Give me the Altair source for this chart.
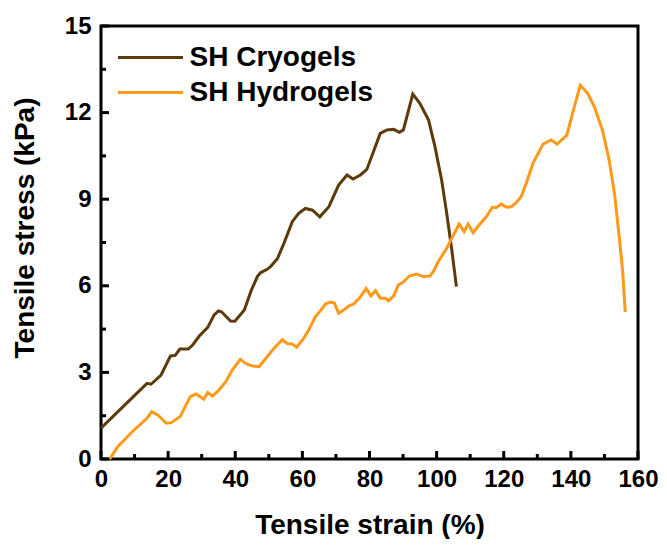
import altair as alt
import pandas as pd

# ---- data ----
cryo_strain = [0, 13.7, 14.9, 17.9, 20.7, 22.1, 23.5, 26.0, 27.3, 29.3, 31.8, 33.7, 35.0, 35.9,
               38.6, 39.9, 42.7, 44.8, 46.6, 47.5, 49.5, 50.5, 52.6, 54.5, 57.0, 58.9, 60.9,
               63.0, 65.2, 67.9, 70.8, 73.3, 75.1, 77.3, 79.2, 81.2, 83.2, 85.2, 87.2, 88.9,
               90.1, 92.9, 95.0, 97.6, 99.5, 101.5, 103.0, 104.4, 105.9]
cryo_stress = [1.07, 2.62, 2.59, 2.91, 3.57, 3.59, 3.81, 3.81, 3.95, 4.26, 4.56, 4.99, 5.13, 5.10,
               4.78, 4.77, 5.16, 5.85, 6.32, 6.45, 6.57, 6.66, 6.95, 7.47, 8.22, 8.51, 8.68,
               8.62, 8.39, 8.74, 9.49, 9.84, 9.70, 9.84, 10.03, 10.65, 11.28, 11.40, 11.42, 11.32,
               11.40, 12.64, 12.32, 11.74, 10.82, 9.66, 8.51, 7.35, 5.97]

hydro_strain = [2.6, 5.0, 9.0, 13.7, 15.1, 17.0, 19.4, 20.9, 23.6, 26.6, 28.3, 30.6, 31.8, 33.2,
                34.7, 37.2, 39.1, 41.5, 43.1, 45.1, 47.1, 49.5, 51.5, 54.0, 55.5, 57.0, 58.3,
                60.4, 61.9, 63.9, 65.4, 66.9, 68.3, 69.5, 70.8, 72.3, 73.8, 75.3, 77.2, 79.0,
                80.4, 81.8, 83.2, 84.7, 85.7, 87.2, 88.6, 89.9, 91.9, 94.0, 96.0, 98.0, 99.0,
                100.5, 103.0, 106.7, 108.2, 109.4, 110.9, 112.4, 114.8, 116.6, 117.8, 119.3,
                120.8, 122.3, 123.7, 125.2, 126.7, 128.7, 131.7, 134.1, 135.9, 138.8, 140.5,
                142.8, 145.0, 147.0, 149.4, 151.4, 153.0, 154.4, 155.4, 156.2]
hydro_stress = [0.0, 0.43, 0.91, 1.41, 1.64, 1.52, 1.24, 1.26, 1.47, 2.16, 2.25, 2.07, 2.30, 2.18,
                2.33, 2.68, 3.08, 3.45, 3.31, 3.22, 3.20, 3.54, 3.83, 4.13, 4.00, 3.98, 3.87,
                4.18, 4.47, 4.93, 5.14, 5.37, 5.44, 5.41, 5.05, 5.16, 5.30, 5.37, 5.60, 5.91,
                5.65, 5.83, 5.57, 5.57, 5.48, 5.65, 6.03, 6.11, 6.34, 6.41, 6.32, 6.34, 6.49,
                6.84, 7.30, 8.14, 7.88, 8.14, 7.84, 8.07, 8.39, 8.72, 8.71, 8.83,
                8.72, 8.74, 8.88, 9.09, 9.55, 10.24, 10.91, 11.05, 10.91, 11.22, 11.97,
                12.95, 12.67, 12.20, 11.40, 10.36, 9.20, 7.70, 6.55, 5.10]

series_names = ["SH Cryogels", "SH Hydrogels"]
series_colors = ["#5E3A0A", "#FF991A"]

x_major = [0, 20, 40, 60, 80, 100, 120, 140, 160]
x_minor = [10, 30, 50, 70, 90, 110, 130, 150]
y_major = [0, 3, 6, 9, 12, 15]
y_minor = [1.5, 4.5, 7.5, 10.5, 13.5]

rows = []
for i, (x, y) in enumerate(zip(cryo_strain, cryo_stress)):
    rows.append({"series": series_names[0], "strain": x, "stress": y, "idx": i})
for i, (x, y) in enumerate(zip(hydro_strain, hydro_stress)):
    rows.append({"series": series_names[1], "strain": x, "stress": y, "idx": i})
df = pd.DataFrame(rows)

W, H = 537, 433
FONT = "Liberation Sans"
MAJ = 8
MIN = 5
XTITLE = "Tensile strain (%)"
YTITLE = "Tensile stress (kPa)"
xs = alt.Scale(domain=[0, 160], nice=False, zero=False)
ys = alt.Scale(domain=[0, 15], nice=False)

x_axis = alt.Axis(values=x_major, format="d", ticks=False, domain=False, grid=False,
                  labelFont=FONT, labelFontSize=24, labelFontWeight="bold",
                  labelColor="black", labelPadding=8, labelFlush=False,
                  titleFont=FONT, titleFontSize=28, titleFontWeight="bold",
                  titleColor="black", titlePadding=20)
y_axis = alt.Axis(values=y_major, format="d", ticks=False, domain=False, grid=False,
                  labelFont=FONT, labelFontSize=24, labelFontWeight="bold",
                  labelColor="black", labelPadding=10, labelFlush=False,
                  titleFont=FONT, titleFontSize=28, titleFontWeight="bold",
                  titleColor="black", titlePadding=25, titleY=201.5)

main = alt.Chart(df).mark_line(strokeWidth=3).encode(
    x=alt.X("strain:Q", scale=xs, title=XTITLE, axis=x_axis),
    y=alt.Y("stress:Q", scale=ys, title=YTITLE, axis=y_axis),
    color=alt.Color("series:N", scale=alt.Scale(domain=series_names, range=series_colors),
                    legend=alt.Legend(title=None, orient="none", legendX=35.5, legendY=17.5,
                                      symbolType="M-3.25,0H3.25", symbolSize=400,
                                      symbolStrokeWidth=3, labelFont=FONT, labelFontSize=28,
                                      labelFontWeight="bold", labelColor="black",
                                      labelOffset=25, labelLimit=400, rowPadding=7, padding=0)),
    order="idx:Q",
)


def xticks(vals, size):
    d = pd.DataFrame({"v": vals})
    return alt.Chart(d).mark_rule(color="black", strokeWidth=3).encode(
        x=alt.X("v:Q", scale=xs, title=XTITLE, axis=x_axis),
        y=alt.value(H), y2=alt.value(H - size),
    )


def yticks(vals, size):
    d = pd.DataFrame({"v": vals})
    return alt.Chart(d).mark_rule(color="black", strokeWidth=3).encode(
        y=alt.Y("v:Q", scale=ys, title=YTITLE, axis=y_axis),
        x=alt.value(0), x2=alt.value(size),
    )


chart = alt.layer(
    main, xticks(x_major, MAJ), xticks(x_minor, MIN), yticks(y_major, MAJ), yticks(y_minor, MIN)
).properties(
    width=W, height=H,
    autosize=alt.AutoSizeParams(type="none"),
    padding={"left": 93, "top": 18, "right": 21, "bottom": 80},
).configure_view(stroke="black", strokeWidth=3)

chart.save("out.html", embed_options={"renderer": "svg", "actions": False})
